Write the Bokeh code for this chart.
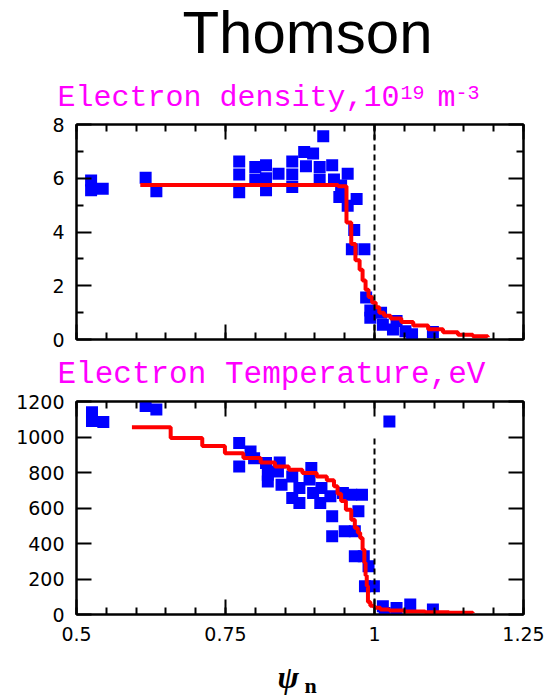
from bokeh.plotting import figure
from bokeh.models import Range1d, FixedTicker, LinearAxis, Span
from bokeh.layouts import column
from bokeh.core.properties import value
from bokeh.embed import file_html
from bokeh.resources import INLINE
import numpy as np

# ---------------- data ----------------
title_text = "Thomson"
ne_title = "Electron density,10"
ne_sup1 = "19"
ne_unit = "m"
ne_sup2 = "-3"
te_title = "Electron Temperature,eV"
x_title = "ψ"
x_title_sub = "n"

x_ticks = [0.5, 0.75, 1.0, 1.25]
x_tick_labels = ["0.5", "0.75", "1", "1.25"]
ne_ticks = [0, 2, 4, 6, 8]
ne_tick_labels = ["0", "2", "4", "6", "8"]
te_ticks = [0, 200, 400, 600, 800, 1000, 1200]
te_tick_labels = ["0", "200", "400", "600", "800", "1000", "1200"]

separatrix = 1.0
te_dash_top = 1000

ne_x = [0.5245, 0.5245, 0.544, 0.616, 0.634,
        0.773, 0.773, 0.773, 0.800, 0.800,
        0.818, 0.818, 0.818, 0.839,
        0.862, 0.862, 0.862, 0.882, 0.897, 0.885,
        0.914, 0.908, 0.929, 0.908, 0.932,
        0.944, 0.941, 0.955, 0.955, 0.970,
        0.966, 0.962, 0.983, 0.986, 0.993, 0.993,
        1.011, 1.014, 1.037, 1.031, 1.052, 1.063, 1.098]
ne_y = [5.92, 5.55, 5.61, 6.02, 5.52,
        6.62, 6.14, 5.48, 6.42, 5.95,
        6.48, 6.00, 5.55, 6.17,
        6.62, 6.14, 5.67, 6.98, 6.92, 6.45,
        7.56, 6.42, 6.48, 5.95, 5.95,
        5.73, 5.30, 6.17, 4.98, 5.23,
        4.07, 3.36, 3.36, 1.56, 1.08, 0.81,
        1.00, 0.55, 0.69, 0.37, 0.31, 0.20, 0.28]

ne_fit_x = [0.607, 0.939, 0.953, 0.961, 0.968, 0.975, 0.980, 0.985, 0.990, 0.996,
            1.002, 1.008, 1.016, 1.027, 1.045, 1.065, 1.090, 1.115, 1.140, 1.165, 1.190]
ne_fit_y = [5.75, 5.70, 4.35, 3.55, 2.95, 2.60, 2.20, 1.85, 1.58, 1.38,
            1.20, 1.00, 0.88, 0.78, 0.65, 0.52, 0.38, 0.27, 0.18, 0.12, 0.08]

te_x = [0.526, 0.526, 0.545, 0.616, 0.634,
        0.773, 0.773, 0.792, 0.798, 0.818, 0.821, 0.821,
        0.841, 0.838, 0.844, 0.862, 0.862, 0.874, 0.874,
        0.894, 0.891, 0.897, 0.911, 0.909, 0.926, 0.929, 0.929,
        0.947, 0.961, 0.979, 0.950, 0.967, 0.973,
        0.967, 0.982, 0.990, 0.984, 0.999,
        1.014, 1.017, 1.037, 1.060, 1.098, 1.025]
te_y = [1140, 1090, 1085, 1175, 1155,
        966, 834, 919, 880, 853, 787, 750,
        857, 806, 731, 778, 656, 628, 712,
        825, 760, 684, 712, 628, 666, 553, 441,
        684, 675, 675, 469, 469, 581,
        328, 328, 272, 159, 159,
        47, 9, 37, 56, 28, 1088]

te_fit_x = [0.593, 0.658, 0.711, 0.749, 0.780, 0.809, 0.833, 0.856, 0.879, 0.903,
            0.920, 0.932, 0.938, 0.944, 0.952, 0.961, 0.967, 0.972, 0.976, 0.980,
            0.983, 0.985, 0.987, 0.989, 0.993, 1.000, 1.010, 1.025, 1.050, 1.085,
            1.125, 1.165]
te_fit_y = [1055, 994, 950, 909, 881, 857, 834, 816, 797, 778,
            756, 722, 680, 640, 590, 534, 487, 460, 431, 366,
            291, 220, 160, 70, 50, 38, 28, 22, 17, 13,
            10, 9]

# ---------------- styling ----------------
MAGENTA = "#FF00FF"
BLUE = "#0000FF"
RED = "#FF0000"
W = 545
FRAME_W = 447
LEFT = 76
RIGHT = 22
TICK_FONT = "DejaVu Sans"
TICK_SIZE = "19px"
MONO = "Liberation Mono"
SQ = 12
x_minor = [round(v, 3) for v in np.arange(0.5, 1.2501, 0.05)]


def text_strip(h):
    """A blank figure whose frame is the whole strip, in pixel coordinates."""
    s = figure(frame_width=W, frame_height=h, min_border=0,
               x_range=Range1d(0, W), y_range=Range1d(h, 0),
               x_axis_location=None, y_axis_location=None,
               output_backend="svg", toolbar_location=None)
    s.frame_align = False
    s.grid.visible = False
    s.outline_line_color = None
    s.background_fill_color = "white"
    s.border_fill_color = "white"
    return s


def put(s, x, y, txt, font, size, color, style="normal", align="left"):
    s.text(x=[x], y=[y], text=[txt], text_font=value(font),
           text_font_size=value(size), text_font_style=style,
           text_color=color, text_align=align, text_baseline="alphabetic")


def style_axis(ax, major, minor, labels, show_labels):
    ax.ticker = FixedTicker(ticks=major, minor_ticks=minor)
    ax.axis_line_width = 2
    ax.axis_line_color = "black"
    ax.major_tick_in = 15
    ax.major_tick_out = 0
    ax.minor_tick_in = 7
    ax.minor_tick_out = 0
    ax.major_tick_line_width = 2
    ax.minor_tick_line_width = 2
    ax.major_tick_line_color = "black"
    ax.minor_tick_line_color = "black"
    ax.major_label_text_font = TICK_FONT
    ax.major_label_text_color = "black"
    if show_labels:
        ax.major_label_overrides = {m: l for m, l in zip(major, labels)}
        ax.major_label_text_font_size = TICK_SIZE
        ax.major_label_standoff = 12
    else:
        ax.major_label_overrides = {m: "" for m in major}
        ax.major_label_text_font_size = "0px"
        ax.major_label_standoff = 0


def make_fig(top, fh, bottom, yr, ymaj, ymin, ylabels, show_x):
    p = figure(frame_width=FRAME_W, frame_height=fh,
               min_border_left=LEFT, min_border_right=RIGHT,
               min_border_top=top, min_border_bottom=bottom,
               x_range=Range1d(0.5, 1.25), y_range=Range1d(*yr),
               x_axis_location=None, y_axis_location=None,
               output_backend="svg", toolbar_location=None)
    p.frame_align = False
    p.grid.visible = False
    p.outline_line_color = "black"
    p.outline_line_width = 2
    p.background_fill_color = "white"
    p.border_fill_color = "white"
    for loc in ("below", "above"):
        ax = LinearAxis()
        style_axis(ax, x_ticks, x_minor, x_tick_labels, show_x and loc == "below")
        p.add_layout(ax, loc)
    for loc in ("left", "right"):
        ax = LinearAxis()
        style_axis(ax, ymaj, ymin, ylabels, loc == "left")
        p.add_layout(ax, loc)
    return p


# ---- header: main title and density title (canvas y 0..113) ----
head = text_strip(113)
put(head, 307, 32, title_text, "Liberation Sans", "60px", "black", align="center")
put(head, 57, 97, ne_title, MONO, "30px", MAGENTA)
put(head, 400, 92, ne_sup1, MONO, "20px", MAGENTA)
put(head, 437, 97, ne_unit, MONO, "30px", MAGENTA)
put(head, 455, 92, ne_sup2, MONO, "20px", MAGENTA)

# ---- top panel: density (canvas y 113..353, frame 124..339) ----
p1 = make_fig(11, 215, 14, (0, 8), ne_ticks, [1, 3, 5, 7], ne_tick_labels, False)
p1.scatter(ne_x, ne_y, marker="square", size=SQ, color=BLUE, line_width=0)
p1.add_layout(Span(location=separatrix, dimension="height", line_color="black",
                   line_width=2, line_dash="6 4"))
p1.step(ne_fit_x, ne_fit_y, mode="after", line_color=RED, line_width=4)

# ---- middle strip: temperature title (canvas y 353..391) ----
mid = text_strip(38)
put(mid, 57, 21, te_title, MONO, "31px", MAGENTA)

# ---- bottom panel: temperature (canvas y 391..654, frame 401..614) ----
p2 = make_fig(10, 213, 40, (0, 1200), te_ticks, [], te_tick_labels, True)
p2.scatter(te_x, te_y, marker="square", size=SQ, color=BLUE, line_width=0)
p2.segment(x0=[separatrix], y0=[0], x1=[separatrix], y1=[te_dash_top],
           line_color="black", line_width=2, line_dash="6 4")
p2.step(te_fit_x, te_fit_y, mode="after", line_color=RED, line_width=4)

# ---- footer: x-axis title (canvas y 654..698) ----
foot = text_strip(44)
put(foot, 277, 22, x_title, "Liberation Serif", "32px", "black", style="bold italic")
put(foot, 304, 31, x_title_sub, "Liberation Serif", "22px", "black", style="bold")

layout = column(head, p1, mid, p2, foot, spacing=0)
open("out.html", "w").write(file_html(layout, INLINE))
